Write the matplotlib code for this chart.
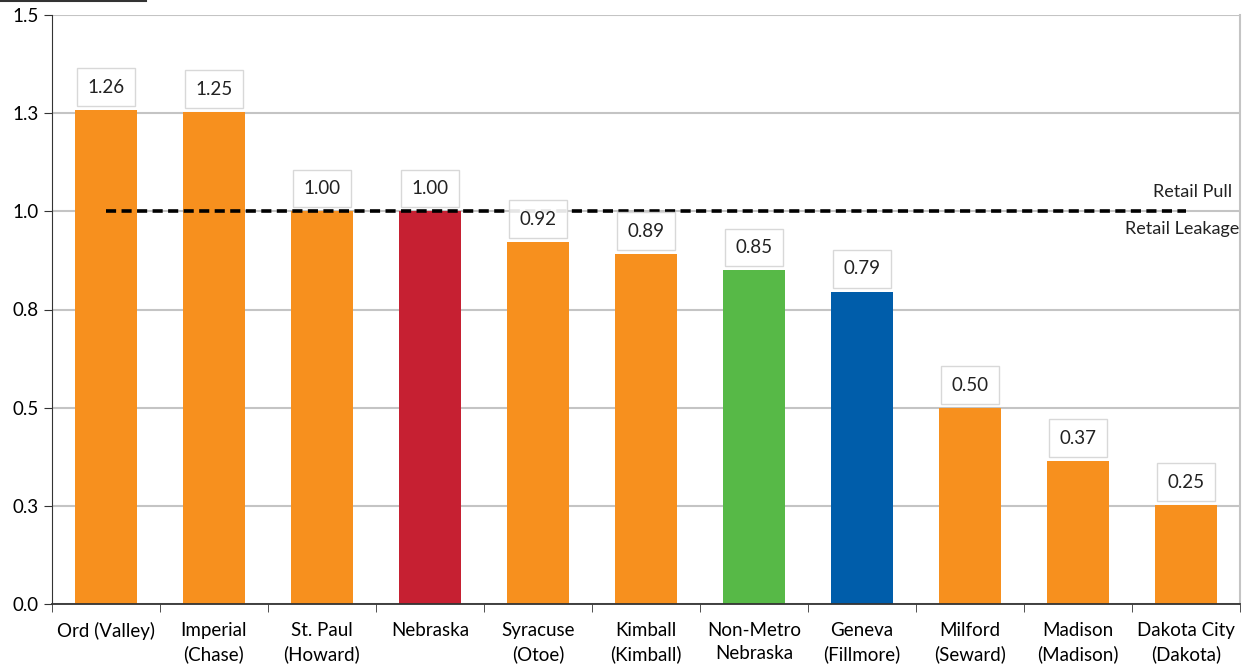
import matplotlib
matplotlib.use("Agg")
import matplotlib.pyplot as plt
from matplotlib.lines import Line2D

# Données
villes = ["Ord (Valley)", "Imperial\n(Chase)", "St. Paul\n(Howard)", "Nebraska",
          "Syracuse\n(Otoe)", "Kimball\n(Kimball)", "Non-Metro\nNebraska",
          "Geneva\n(Fillmore)", "Milford\n(Seward)", "Madison\n(Madison)",
          "Dakota City\n(Dakota)"]
valeurs = [1.26, 1.25, 1.00, 1.00, 0.92, 0.89, 0.85, 0.79, 0.50, 0.37, 0.25]
hauteurs = [1.258, 1.253, 1.00, 1.00, 0.922, 0.891, 0.85, 0.795, 0.499, 0.364, 0.252]
couleurs = ["#F7901E"] * 11
couleurs[3] = "#C62032"
couleurs[6] = "#57B947"
couleurs[7] = "#005DAA"
yticks = [0, 0.25, 0.5, 0.75, 1.0, 1.25, 1.5]
ytick_labels = ["0.0", "0.3", "0.5", "0.8", "1.0", "1.3", "1.5"]

plt.rcParams['font.family'] = ['Lato', 'DejaVu Sans']

fig = plt.figure(figsize=(12.46, 6.65), dpi=100)
ax = fig.add_axes([52/1246, 1-604/665, (1240-52)/1246, (604-15)/665])

x = list(range(len(villes)))
ax.bar(x, hauteurs, width=0.57, color=couleurs, zorder=2)

# Etiquettes dans des boites
for i in x:
    ax.annotate('{0:.2f}'.format(valeurs[i]), (i, hauteurs[i]),
                xytext=(0, 16.5), textcoords='offset points',
                ha='center', va='center', fontsize=13.5, color='#222222', zorder=4,
                bbox=dict(boxstyle='square,pad=0.55', facecolor='white',
                          edgecolor='#d4d4d4', linewidth=1, alpha=0.9))

# Ligne 1.0
ax.plot([0, 10], [1.0, 1.0], color='black', linestyle=(0, (2.8, 1.5)),
        linewidth=2.6, zorder=3)
ax.text(10.43, 1.05, "Retail Pull", ha='right', va='center', fontsize=13, color='#222222')
ax.text(10.49, 0.955, "Retail Leakage", ha='right', va='center', fontsize=13, color='#222222')

ax.set_xlim(-0.5, 10.5)
ax.set_ylim(0, 1.5)
ax.set_yticks(yticks)
ax.set_yticklabels(ytick_labels, fontsize=13.5)
ax.set_xticks(x)
ax.set_xticklabels(villes, fontsize=13.5, linespacing=1.4)
ax.tick_params(axis='x', length=0, pad=13)
ax.set_xticks([i - 0.5 for i in range(12)], minor=True)
ax.tick_params(axis='x', which='minor', length=6, direction='out', color='#333333')
ax.tick_params(axis='y', length=6, direction='out', color='#333333')
ax.grid(axis='y', color='#c4c4c4', linewidth=1.5, zorder=0)
ax.set_axisbelow(True)

ax.spines['top'].set_visible(False)
ax.spines['right'].set_color('#c4c4c4')
ax.spines['right'].set_linewidth(1.5)
ax.spines['left'].set_color('#333333')
ax.spines['bottom'].set_color('#333333')
ax.spines['bottom'].set_linewidth(1.3)

# petit trait en haut a gauche
fig.add_artist(Line2D([0, 146/1246], [0.999, 0.999], color='#333333', linewidth=1.5))

fig.savefig("out.png", dpi=100)
